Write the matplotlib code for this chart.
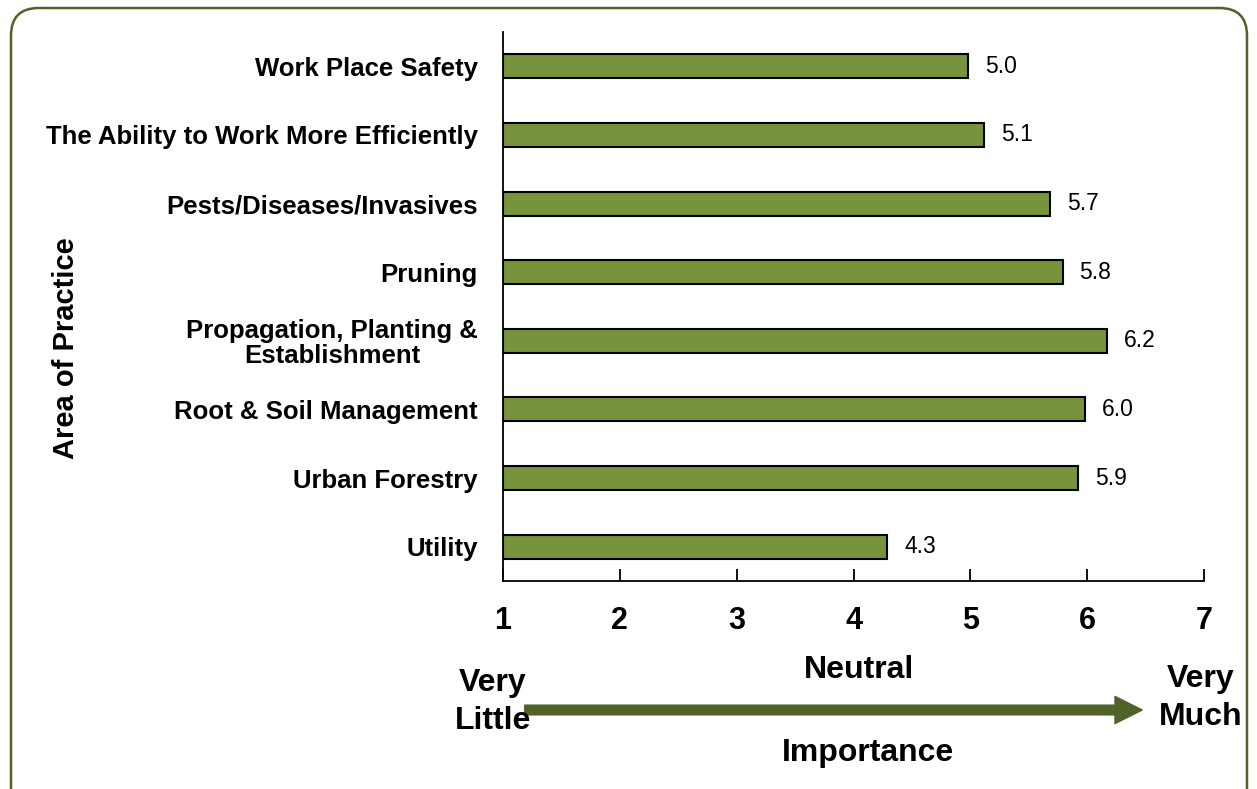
import matplotlib.pyplot as plt
from matplotlib.patches import FancyBboxPatch, FancyArrowPatch

categories = ["Work Place Safety", "The Ability to Work More Efficiently",
              "Pests/Diseases/Invasives", "Pruning",
              "Propagation, Planting &\nEstablishment", "Root & Soil Management",
              "Urban Forestry", "Utility"]
values = [4.98, 5.12, 5.68, 5.79, 6.17, 5.98, 5.92, 4.29]
xticks = [1, 2, 3, 4, 5, 6, 7]

plt.rcParams['font.family'] = ['Liberation Sans', 'DejaVu Sans']

fig = plt.figure(figsize=(12.57, 7.89), dpi=100)
W, H = 1257, 789
ax = fig.add_axes([503 / W, 1 - 581 / H, (1204 - 503) / W, (581 - 32) / H])

pos = list(range(len(categories)))[::-1]
ax.barh(pos, [v - 1 for v in values], left=1, height=0.35,
        color="#77933c", edgecolor="black", linewidth=1.5)
for p, v in zip(pos, values):
    ax.text(v + 0.145, p, f"{v:.1f}", va="center", ha="left", fontsize=16.5)

ax.set_xlim(1, 7)
ax.set_ylim(-0.5, len(categories) - 0.5)
ax.set_xticks(xticks)
ax.set_xticklabels([str(t) for t in xticks], fontsize=22, fontweight="bold")
ax.tick_params(axis="x", direction="in", length=9, width=1.3, pad=18)
ax.set_yticks(pos)
ax.set_yticklabels(categories, fontsize=18.5, fontweight="bold",
                   multialignment="center", linespacing=1.05)
ax.tick_params(axis="y", length=0, pad=18)
for s in ["top", "right"]:
    ax.spines[s].set_visible(False)
ax.spines["left"].set_linewidth(1.3)
ax.spines["bottom"].set_linewidth(1.3)

# annotations below the axis
fig.text(66 / W, 1 - 348 / H, "Area of Practice", rotation=90, fontsize=21,
         fontweight="bold", ha="center", va="center")
fig.text(859 / W, 1 - 670 / H, "Neutral", fontsize=23, fontweight="bold",
         ha="center", va="center")
fig.text(493 / W, 1 - 702 / H, "Very\nLittle", fontsize=23, fontweight="bold",
         ha="center", va="center", linespacing=1.35)
fig.text(1201 / W, 1 - 698 / H, "Very\nMuch", fontsize=23, fontweight="bold",
         ha="center", va="center", linespacing=1.35)
fig.text(868 / W, 1 - 753 / H, "Importance", fontsize=23, fontweight="bold",
         ha="center", va="center")

arrow = FancyArrowPatch((522 / W, 1 - 710 / H), (1145 / W, 1 - 710 / H),
                        transform=fig.transFigure,
                        arrowstyle="simple,head_width=1.4,head_length=1.4,tail_width=0.5",
                        mutation_scale=14, color="#4f6228")
fig.patches.append(arrow)

border = FancyBboxPatch((11 / W, -0.05), (1247 - 11) / W, 1 - 8 / H + 0.05,
                        boxstyle="round,pad=0,rounding_size=0.022",
                        transform=fig.transFigure, fill=False,
                        edgecolor="#4f6228", linewidth=1.8, mutation_aspect=W / H)
fig.patches.append(border)

fig.savefig("out.png", dpi=100)
